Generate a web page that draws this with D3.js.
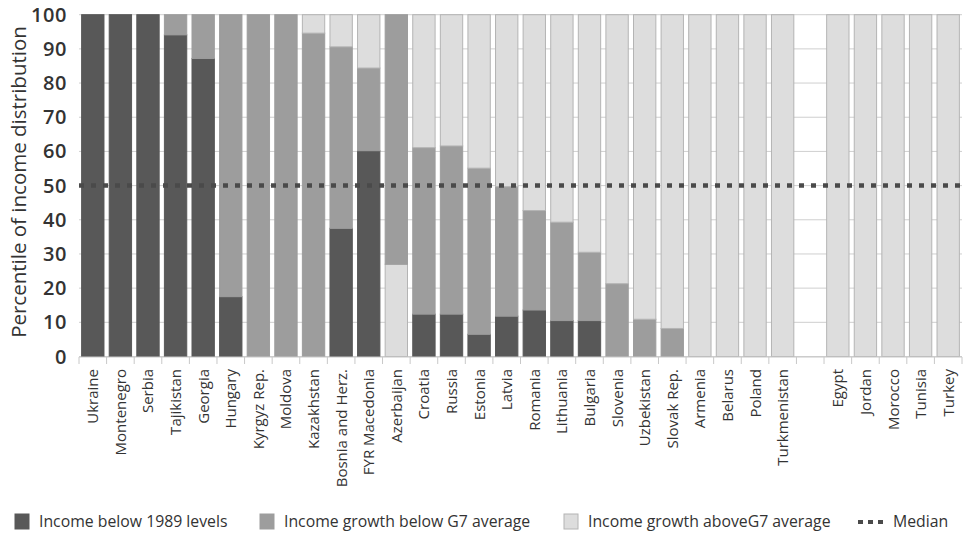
<!DOCTYPE html>
<html><head><meta charset="utf-8">
<script src="https://cdn.jsdelivr.net/npm/d3@7"></script>
<style>body{margin:0;background:#fff}svg{display:block;font-family:"Open Sans",Lato,sans-serif}</style>
</head><body><svg id="c" width="963" height="534"></svg>
<script>
const countries = ["Ukraine","Montenegro","Serbia","Tajikistan","Georgia","Hungary","Kyrgyz Rep.","Moldova","Kazakhstan","Bosnia and Herz.","FYR Macedonia","Azerbaijan","Croatia","Russia","Estonia","Latvia","Romania","Lithuania","Bulgaria","Slovenia","Uzbekistan","Slovak Rep.","Armenia","Belarus","Poland","Turkmenistan","","Egypt","Jordan","Morocco","Tunisia","Turkey"];
// segment sizes (percentile points)
const belowLevels = [100,100,100,94.1,87.2,17.5,0,0,0,37.5,60.2,0,12.4,12.4,6.5,11.8,13.6,10.5,10.5,0,0,0,0,0,0,0,0,0,0,0,0,0];
const belowG7 =     [0,0,0,5.9,12.8,82.5,100,100,94.6,53.1,24.2,73.0,48.7,49.2,48.6,37.9,29.1,28.8,20.0,21.3,10.9,8.2,0,0,0,0,0,0,0,0,0,0];
const aboveG7 =     [0,0,0,0,0,0,0,0,5.4,9.4,15.6,27.0,38.9,38.4,44.9,50.3,57.3,60.7,69.5,78.7,89.1,91.8,100,100,100,100,0,100,100,100,100,100];
const lightFirst = ["Azerbaijan"];
const median = 50;
const yTicks = [0,10,20,30,40,50,60,70,80,90,100];
const seriesNames = ["Income below 1989 levels","Income growth below G7 average","Income growth aboveG7 average"];
const colors = ["#585858","#9d9d9d","#dddddd"];

const svg = d3.select("#c");
const keys = countries.map((c,i)=> c===""? "_blank"+i : c);
const x = d3.scaleBand().domain(keys).range([79,962]).paddingInner(0.19).paddingOuter(0.095);
const y = d3.scaleLinear().domain([0,100]).range([356.5,14.7]);

// gridlines
svg.append("g").selectAll("line").data(yTicks).join("line")
  .attr("x1",79).attr("x2",962).attr("y1",d=>y(d)).attr("y2",d=>y(d))
  .attr("stroke","#cfcfcf").attr("stroke-width",1);

// bars
const segs = [];
keys.forEach((k,i)=>{
  const vals = [belowLevels[i], belowG7[i], aboveG7[i]];
  const order = lightFirst.includes(countries[i]) ? [2,1,0] : [0,1,2];
  let base = 0;
  order.forEach(s=>{
    if(vals[s]>0){ segs.push({k, s, y0:base, y1:base+vals[s]}); base += vals[s]; }
  });
});
svg.append("g").selectAll("rect").data(segs).join("rect")
  .attr("x",d=>x(d.k)).attr("width",x.bandwidth())
  .attr("y",d=>y(d.y1)).attr("height",d=>y(d.y0)-y(d.y1))
  .attr("fill",d=>colors[d.s])
  .attr("stroke",d=>d.s===2?"#b4b4b4":colors[d.s]).attr("stroke-width",1);

// x axis
const xa = svg.append("g");
xa.append("line").attr("x1",79).attr("x2",962).attr("y1",357).attr("y2",357).attr("stroke","#c8c8c8");
const bounds = keys.map(k=>x(k)-x.step()*x.paddingInner()/2).concat([962]);
xa.selectAll("line.t").data(bounds).join("line").attr("class","t")
  .attr("x1",d=>d).attr("x2",d=>d).attr("y1",357).attr("y2",364).attr("stroke","#c8c8c8");
xa.selectAll("text").data(keys).join("text")
  .attr("transform",d=>`translate(${x(d)+x.bandwidth()/2+5.5},369) rotate(-90)`)
  .attr("text-anchor","end").attr("font-size",15).attr("fill","#333")
  .text((d,i)=>countries[i]);

// y axis labels
svg.append("g").selectAll("text").data(yTicks).join("text")
  .attr("x",67).attr("y",d=>y(d)+7).attr("text-anchor","end")
  .attr("font-size",20).attr("font-weight",600).attr("letter-spacing",0.6).attr("fill","#333").text(d=>d);
svg.append("text").attr("transform","translate(25.5,182) rotate(-90)")
  .attr("text-anchor","middle").attr("font-size",20.5).attr("fill","#333")
  .text("Percentile of income distribution");

// median line
svg.append("line").attr("x1",79).attr("x2",962).attr("y1",y(median)).attr("y2",y(median))
  .attr("stroke","#4a4a4a").attr("stroke-width",4.5).attr("stroke-dasharray","5 7");

// legend
const lg = svg.append("g").attr("font-size",15.8).attr("fill","#333");
const lx = [15,260,564];
seriesNames.forEach((n,i)=>{
  lg.append("rect").attr("x",lx[i]).attr("y",514).attr("width",14).attr("height",15)
    .attr("fill",colors[i]).attr("stroke",i===2?"#b4b4b4":colors[i]);
  lg.append("text").attr("x",lx[i]+24).attr("y",527).text(n);
});
lg.append("line").attr("x1",858).attr("x2",885).attr("y1",522).attr("y2",522)
  .attr("stroke","#4a4a4a").attr("stroke-width",4).attr("stroke-dasharray","5 5");
lg.append("text").attr("x",893).attr("y",527).text("Median");
</script></body></html>
